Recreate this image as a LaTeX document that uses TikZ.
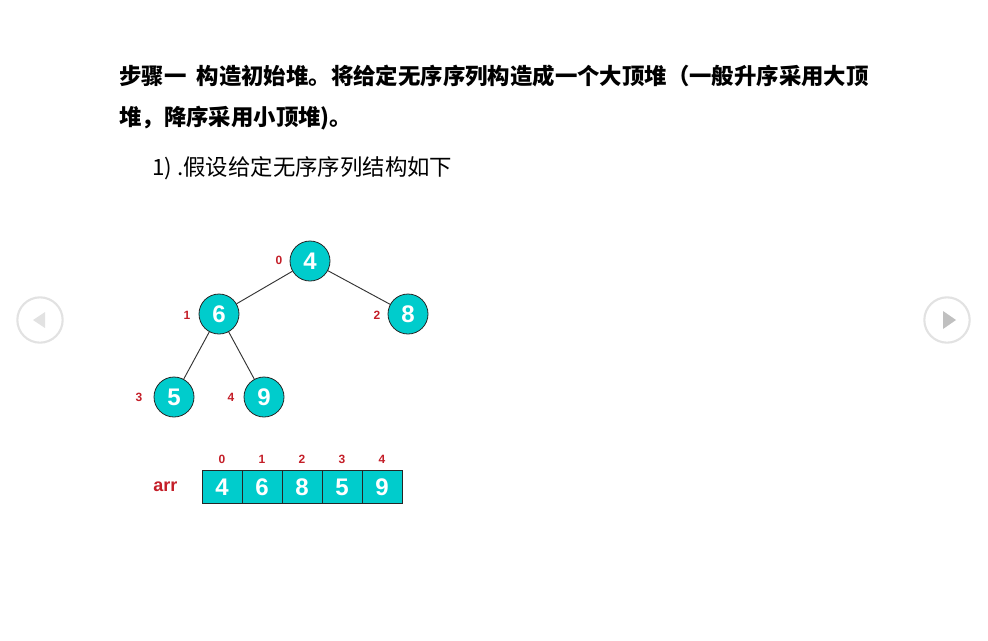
\documentclass[tikz,border=0pt]{standalone}
\usepackage{fontspec}
\setmainfont{Liberation Sans}
\newfontfamily\cjk{Noto Sans CJK SC}
\usepackage{xcolor}
\usepackage{tikz}
\usetikzlibrary{positioning}
\definecolor{heapfill}{RGB}{0,204,204}
\definecolor{idxred}{RGB}{196,30,40}
\definecolor{navgray}{RGB}{226,226,226}

\begin{document}
\begin{tikzpicture}[
        x=0.75pt, y=-0.75pt,
        heap/.style={circle, draw=black!85, fill=heapfill, text=white, font=\fontsize{18}{20}\selectfont\bfseries, minimum size=30pt, inner sep=0pt, line width=0.6pt},
        cell/.style={rectangle, draw=black!85, fill=heapfill, text=white, font=\fontsize{18}{20}\selectfont\bfseries, minimum width=30pt, minimum height=25pt, inner sep=0pt, outer sep=0pt, line width=0.6pt},
        idx/.style={text=idxred, font=\fontsize{9}{10}\selectfont\bfseries, inner sep=0pt},
        title/.style={anchor=west, font=\fontsize{16.8}{20}\selectfont\cjk\bfseries, inner sep=0pt},
        plain/.style={anchor=west, font=\fontsize{16.8}{20}\selectfont\cjk, inner sep=0pt},
        edge/.style={draw=black!80, line width=0.7pt},
        nav/.style={draw=navgray, line width=1.6pt}
    ]
        \useasboundingbox (0,0) rectangle (988,640);

        % heading
        \node[title] (line1) at (119,76) {步骤一\ \ 构造初始堆。将给定无序序列构造成一个大顶堆（一般升序采用大顶};
        \node[title] (line2) at (119,118) {堆，降序采用小顶堆)。};
        \node[plain] (step1) at (152,168) {1) .假设给定无序序列结构如下};

        % heap as tree
        \node[heap] (n0) at (310,261) {4};
        \node[heap] (n1) at (219,314) {6};
        \node[heap] (n2) at (408,314) {8};
        \node[heap] (n3) at (174,397) {5};
        \node[heap] (n4) at (264,397) {9};
        \draw[edge] (n0) -- (n1);
        \draw[edge] (n0) -- (n2);
        \draw[edge] (n1) -- (n3);
        \draw[edge] (n1) -- (n4);
        \node[idx] (t0) at (279,260) {0};
        \node[idx] (t1) at (187,315) {1};
        \node[idx] (t2) at (377,315) {2};
        \node[idx] (t3) at (139,397) {3};
        \node[idx] (t4) at (231,397) {4};

        % heap as array
        \node[cell] (c0) at (222,487) {4};
        \node[cell, right=0pt of c0] (c1) {6};
        \node[cell, right=0pt of c1] (c2) {8};
        \node[cell, right=0pt of c2] (c3) {5};
        \node[cell, right=0pt of c3] (c4) {9};
        \node[idx, above=5pt of c0] (a0) {0};
        \node[idx, above=5pt of c1] (a1) {1};
        \node[idx, above=5pt of c2] (a2) {2};
        \node[idx, above=5pt of c3] (a3) {3};
        \node[idx, above=5pt of c4] (a4) {4};
        \node[text=idxred, font=\fontsize{13.5}{15}\selectfont\bfseries, left=15pt of c0] (arr) {arr};

        % slide arrows
        \node[circle, nav, minimum size=34pt] (prev) at (40,320) {};
        \node[circle, nav, minimum size=34pt] (next) at (947,320) {};
        \fill[navgray] (33,320) -- (45,312) -- (45,328) -- cycle;
        \fill[navgray!85!black] (943,311) -- (956,320) -- (943,329) -- cycle;
    \end{tikzpicture}
\end{document}
